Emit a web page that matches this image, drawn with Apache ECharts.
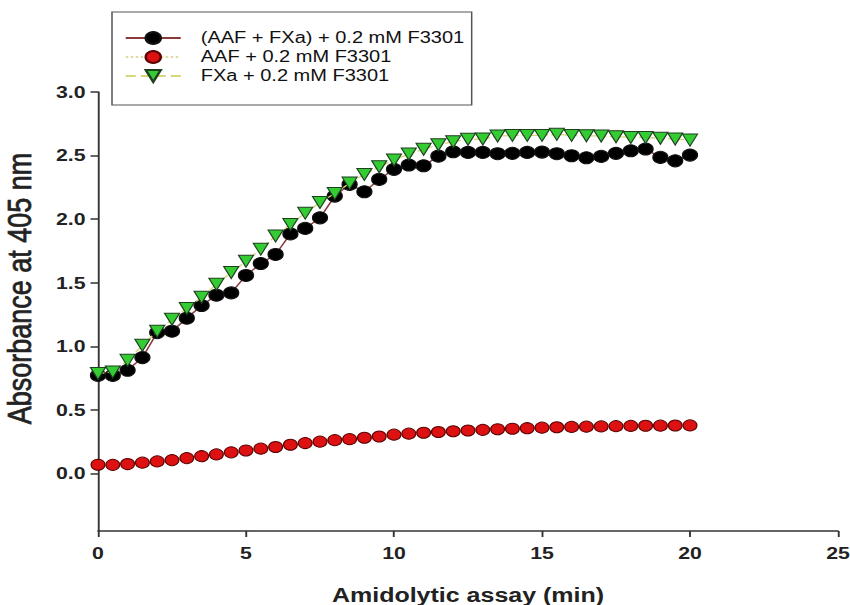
<!DOCTYPE html>
<html>
<head>
<meta charset="utf-8">
<script src="https://cdn.jsdelivr.net/npm/echarts@6/dist/echarts.min.js"></script>
<style>
html, body { margin: 0; padding: 0; background: #ffffff; overflow: hidden; }
#wrap { width: 850px; height: 605px; overflow: hidden; }
#chart { width: 680px; height: 605px; transform: scaleX(1.25); transform-origin: 0 0; }
</style>
</head>
<body>
<div id="wrap"><div id="chart"></div></div>
<script>
// ---- data ----
const times = [0, 0.5, 1, 1.5, 2, 2.5, 3, 3.5, 4, 4.5, 5, 5.5, 6, 6.5, 7, 7.5, 8, 8.5, 9, 9.5,
  10, 10.5, 11, 11.5, 12, 12.5, 13, 13.5, 14, 14.5, 15, 15.5, 16, 16.5, 17, 17.5, 18, 18.5, 19, 19.5, 20];

const seriesNames = ['(AAF + FXa) + 0.2 mM F3301', 'AAF + 0.2 mM F3301', 'FXa + 0.2 mM F3301'];

const aafFxa = [0.773, 0.773, 0.813, 0.913, 1.109, 1.12, 1.222, 1.322, 1.403, 1.421,
  1.558, 1.652, 1.723, 1.885, 1.928, 2.011, 2.182, 2.274, 2.216, 2.313,
  2.392, 2.426, 2.42, 2.496, 2.53, 2.525, 2.525, 2.515, 2.518, 2.525,
  2.528, 2.515, 2.499, 2.483, 2.494, 2.518, 2.538, 2.552, 2.486, 2.459, 2.504];

const aaf = [0.071, 0.07, 0.076, 0.087, 0.097, 0.107, 0.123, 0.138, 0.152, 0.168,
  0.183, 0.197, 0.21, 0.228, 0.241, 0.252, 0.264, 0.272, 0.283, 0.293,
  0.307, 0.315, 0.322, 0.328, 0.334, 0.34, 0.345, 0.35, 0.354, 0.358,
  0.362, 0.365, 0.368, 0.37, 0.372, 0.374, 0.376, 0.377, 0.378, 0.379, 0.38];

const fxa = [0.787, 0.8, 0.891, 1.009, 1.12, 1.214, 1.298, 1.387, 1.489, 1.581,
  1.67, 1.765, 1.869, 1.959, 2.048, 2.132, 2.203, 2.284, 2.352, 2.412,
  2.465, 2.512, 2.55, 2.585, 2.609, 2.628, 2.63, 2.654, 2.659, 2.659,
  2.659, 2.667, 2.659, 2.656, 2.654, 2.648, 2.643, 2.643, 2.636, 2.63, 2.622];

const xTicks = [0, 5, 10, 15, 20, 25];
const yTicks = [0, 0.5, 1.0, 1.5, 2.0, 2.5, 3.0];

const xName = 'Amidolytic assay (min)';
const yName = 'Absorbance at 405 nm';

// ---- chart ----
const FONT = '"Liberation Sans", Arial, Helvetica, sans-serif';
const AXIS_COLOR = '#333333';

function pairs(vals) { return times.map((t, i) => [t, vals[i]]); }

const chart = echarts.init(document.getElementById('chart'), null, { renderer: 'svg' });

chart.setOption({
  animation: false,
  backgroundColor: '#ffffff',
  textStyle: { fontFamily: FONT },
  grid: { left: 78.4, right: 9.6, top: 92, bottom: 74, containLabel: false, outerBoundsMode: 'none' },
  legend: {
    orient: 'vertical',
    left: 89.6,
    top: 12,
    itemWidth: 44,
    itemHeight: 15,
    itemGap: 3,
    padding: [18, 6, 21, 10],
    borderColor: '#555555',
    borderWidth: 1.2,
    selectedMode: false,
    textStyle: { fontFamily: FONT, fontSize: 16, lineHeight: 15, color: '#111111', padding: [0, 0, 0, 11] },
    data: seriesNames
  },
  xAxis: {
    type: 'value',
    min: xTicks[0],
    max: xTicks[xTicks.length - 1],
    interval: 5,
    name: xName,
    nameLocation: 'middle',
    nameGap: 54,
    nameTextStyle: { fontFamily: FONT, fontSize: 20, fontWeight: 'bold', color: '#222222' },
    axisLine: { show: true, onZero: false, lineStyle: { color: AXIS_COLOR, width: 1.5 } },
    axisTick: { show: true, inside: false, length: 6, lineStyle: { color: AXIS_COLOR, width: 1.5 } },
    axisLabel: { fontFamily: FONT, fontSize: 17, fontWeight: 'bold', color: '#222222', margin: 14 },
    splitLine: { show: false }
  },
  yAxis: {
    type: 'value',
    min: -0.45,
    max: 3.0,
    name: yName,
    nameLocation: 'middle',
    nameGap: 50,
    nameRotate: 90,
    nameTextStyle: {
      fontFamily: FONT, fontSize: 27, color: '#222222',
      textBorderColor: '#222222', textBorderWidth: 0.6,
      padding: [0, 0, 0, 46]
    },
    axisLine: { show: true, onZero: false, lineStyle: { color: AXIS_COLOR, width: 1.5 } },
    axisTick: { show: true, inside: false, length: 6, customValues: yTicks, lineStyle: { color: AXIS_COLOR, width: 1.5 } },
    axisLabel: {
      fontFamily: FONT, fontSize: 17, fontWeight: 'bold', color: '#222222', margin: 10,
      customValues: yTicks,
      formatter: function (v) { return Number(v).toFixed(1); }
    },
    splitLine: { show: false }
  },
  series: [
    {
      name: seriesNames[0],
      type: 'line',
      data: pairs(aafFxa),
      symbol: 'circle',
      symbolSize: 12,
      itemStyle: { color: '#000000', borderColor: '#111111', borderWidth: 1 },
      lineStyle: { color: '#8b3a3a', width: 1.3 },
      emphasis: { disabled: true },
      z: 2
    },
    {
      name: seriesNames[1],
      type: 'line',
      data: pairs(aaf),
      symbol: 'circle',
      symbolSize: 11,
      itemStyle: { color: '#dd1111', borderColor: '#5a0000', borderWidth: 1 },
      lineStyle: { color: '#e4d9a0', width: 1.3, type: 'dotted' },
      emphasis: { disabled: true },
      z: 3
    },
    {
      name: seriesNames[2],
      type: 'line',
      data: pairs(fxa),
      symbol: 'triangle',
      symbolRotate: 180,
      symbolSize: 12,
      itemStyle: { color: '#33cc33', borderColor: '#1f3f1f', borderWidth: 1 },
      lineStyle: { color: '#d6d67a', width: 1.3, type: 'dashed' },
      emphasis: { disabled: true },
      z: 4
    }
  ]
});
</script>
</body>
</html>
